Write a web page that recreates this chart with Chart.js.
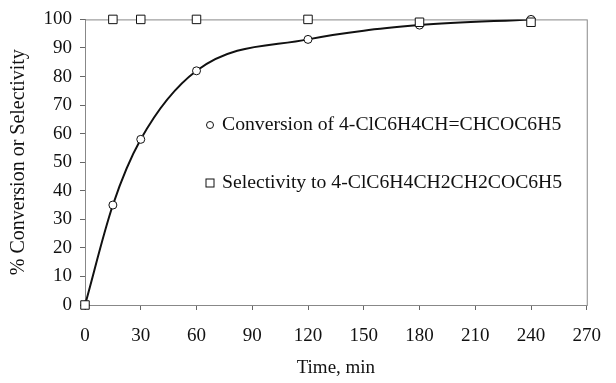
<!DOCTYPE html>
<html>
<head>
<meta charset="utf-8">
<script src="https://cdn.jsdelivr.net/npm/chart.js@4.4.1/dist/chart.umd.min.js"></script>
<style>
  html, body { margin: 0; padding: 0; background: #fff; }
  #wrap { width: 616px; height: 383px; position: relative; }
</style>
</head>
<body>
<div id="wrap"><canvas id="kinetics"></canvas></div>
<script>
// Conversion / selectivity vs time
const times = [0, 15, 30, 60, 120, 180, 240];
const conversion = [0, 35, 58, 82, 93, 98, 100];
const selectivity = [0, 100, 100, 100, 100, 99, 99];
const xTicks = [0, 30, 60, 90, 120, 150, 180, 210, 240, 270];
const yTicks = [0, 10, 20, 30, 40, 50, 60, 70, 80, 90, 100];
const seriesLabels = ['Conversion of 4-ClC6H4CH=CHCOC6H5', 'Selectivity to 4-ClC6H4CH2CH2COC6H5'];

const serif = "'Liberation Serif', 'Times New Roman', serif";
const ink = '#111';
const axisGrey = '#666';

function toXY(xs, ys) {
    return xs.map((x, i) => ({ x: x, y: ys[i] }));
}

// frame around the plot area
const frame = {
    id: 'frame',
    beforeDatasetsDraw(chart) {
        const a = chart.chartArea, ctx = chart.ctx;
        ctx.save();
        ctx.strokeStyle = '#888';
        ctx.lineWidth = 1;
        ctx.strokeRect(a.left + 0.5, a.top + 0.5, a.right - a.left, a.bottom - a.top);
        ctx.restore();
    }
};

// legend sitting inside the plot
const innerLegend = {
    id: 'innerLegend',
    afterDatasetsDraw(chart) {
        const ctx = chart.ctx;
        const mx = 210, rows = [125, 183];
        ctx.save();
        ctx.font = '19.7px ' + serif;
        ctx.fillStyle = ink;
        ctx.textBaseline = 'middle';
        ctx.strokeStyle = ink;
        ctx.lineWidth = 1;
        // circle marker
        ctx.beginPath();
        ctx.arc(mx, rows[0], 3.5, 0, Math.PI * 2);
        ctx.stroke();
        ctx.fillText(seriesLabels[0], mx + 12, rows[0]);
        // square marker
        ctx.strokeRect(mx - 4, rows[1] - 4, 8, 8);
        ctx.fillText(seriesLabels[1], mx + 12, rows[1]);
        ctx.restore();
    }
};

new Chart(document.getElementById('kinetics'), {
    type: 'scatter',
    data: {
        datasets: [{
            label: 'fit',
            data: toXY(times, conversion),
            showLine: true,
            borderColor: ink,
            borderWidth: 2,
            cubicInterpolationMode: 'monotone',
            pointRadius: 0,
            order: 3
        }, {
            label: seriesLabels[0],
            data: toXY(times, conversion),
            showLine: false,
            clip: false,
            pointStyle: 'circle',
            pointRadius: 4,
            pointBackgroundColor: '#fff',
            pointBorderColor: ink,
            pointBorderWidth: 1,
            order: 2
        }, {
            label: seriesLabels[1],
            data: toXY(times, selectivity),
            showLine: false,
            clip: false,
            pointStyle: 'rect',
            pointRadius: 6,
            pointBackgroundColor: '#fff',
            pointBorderColor: ink,
            pointBorderWidth: 1,
            order: 1
        }]
    },
    options: {
        responsive: true,
        maintainAspectRatio: false,
        animation: false,
        layout: { padding: { top: 18, right: 17, left: 0, bottom: 0 } },
        plugins: {
            legend: { display: false },
            tooltip: { enabled: false }
        },
        scales: {
            x: {
                type: 'linear',
                min: 0,
                max: 270,
                afterBuildTicks: s => { s.ticks = xTicks.map(v => ({ value: v })); },
                afterFit: s => { s.height = 78; },
                grid: { drawOnChartArea: false, drawTicks: true, tickLength: 5, color: axisGrey },
                border: { color: axisGrey, width: 1 },
                ticks: { color: ink, font: { family: serif, size: 19 }, padding: 15, maxRotation: 0 },
                title: { display: true, text: 'Time, min', color: ink, font: { family: serif, size: 19 }, padding: { top: 5 } }
            },
            y: {
                min: 0,
                max: 100,
                afterBuildTicks: s => { s.ticks = yTicks.map(v => ({ value: v })); },
                afterFit: s => { s.width = 85; },
                grid: { drawOnChartArea: false, drawTicks: true, tickLength: 5, color: axisGrey },
                border: { color: axisGrey, width: 1 },
                ticks: { color: ink, font: { family: serif, size: 19 }, padding: 8 },
                title: { display: true, text: '% Conversion or Selectivity', color: ink, font: { family: serif, size: 20 }, padding: { top: 7, bottom: 0 } }
            }
        }
    },
    plugins: [frame, innerLegend]
});
</script>
</body>
</html>
